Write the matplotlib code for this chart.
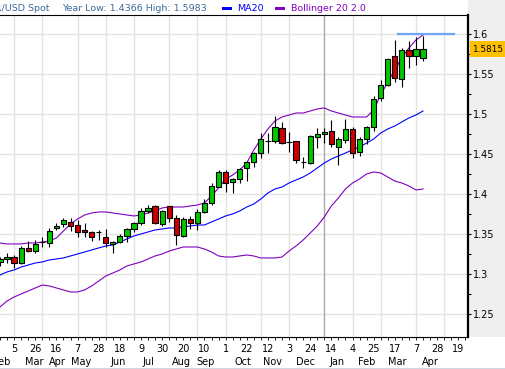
import matplotlib
matplotlib.use('Agg')
from matplotlib import pyplot as plt
from matplotlib import transforms
from matplotlib.patches import Rectangle

# weekly EUR/USD candles, one per week starting 19 Feb 2007
opens = [1.3154, 1.3191, 1.3216, 1.3141, 1.3329, 1.3291, 1.3398, 1.3391, 1.3579, 1.3629,
         1.3654, 1.3616, 1.3554, 1.3529, 1.3529, 1.3466, 1.3379, 1.3404, 1.3479, 1.3566,
         1.3641, 1.3791, 1.3854, 1.3629, 1.3854, 1.3704, 1.3479, 1.3691, 1.3641, 1.3779,
         1.3891, 1.4091, 1.4279, 1.4154, 1.4191, 1.4329, 1.4404, 1.4516, 1.4666, 1.4666,
         1.4829, 1.4654, 1.4666, 1.4404, 1.4391, 1.4716, 1.4754, 1.4791, 1.4591, 1.4679,
         1.4816, 1.4529, 1.4691, 1.4841, 1.5204, 1.5366, 1.5729, 1.5441, 1.5804, 1.5729,
         1.5704]
highs = [1.3216, 1.3266, 1.3241, 1.3354, 1.3416, 1.3429, 1.3466, 1.3579, 1.3641, 1.3704,
         1.3704, 1.3679, 1.3641, 1.3541, 1.3554, 1.3566, 1.3416, 1.3504, 1.3579, 1.3654,
         1.3829, 1.3866, 1.3866, 1.3804, 1.3854, 1.3741, 1.3716, 1.3729, 1.3816, 1.3941,
         1.4141, 1.4304, 1.4304, 1.4204, 1.4329, 1.4416, 1.4529, 1.4766, 1.4766, 1.4979,
         1.4904, 1.4779, 1.4666, 1.4466, 1.4741, 1.4829, 1.4829, 1.4929, 1.4716, 1.4941,
         1.4841, 1.4716, 1.4854, 1.5229, 1.5429, 1.5704, 1.5929, 1.5829, 1.5916, 1.5966,
         1.5983]
lows = [1.3104, 1.3141, 1.3079, 1.3129, 1.3279, 1.3266, 1.3341, 1.3341, 1.3554, 1.3591,
        1.3541, 1.3466, 1.3466, 1.3416, 1.3429, 1.3341, 1.3266, 1.3391, 1.3404, 1.3529,
        1.3616, 1.3766, 1.3629, 1.3604, 1.3654, 1.3366, 1.3466, 1.3566, 1.3554, 1.3766,
        1.3866, 1.4091, 1.4029, 1.4016, 1.4141, 1.4166, 1.4341, 1.4454, 1.4516, 1.4641,
        1.4629, 1.4529, 1.4391, 1.4329, 1.4379, 1.4579, 1.4641, 1.4591, 1.4366, 1.4641,
        1.4454, 1.4479, 1.4629, 1.4791, 1.5166, 1.5354, 1.5404, 1.5341, 1.5579, 1.5616,
        1.5666]
closes = [1.3191, 1.3216, 1.3141, 1.3329, 1.3291, 1.3379, 1.3398, 1.3541, 1.3604, 1.3679,
          1.3604, 1.3529, 1.3529, 1.3466, 1.3529, 1.3391, 1.3404, 1.3479, 1.3566, 1.3641,
          1.3791, 1.3829, 1.3641, 1.3791, 1.3704, 1.3491, 1.3691, 1.3641, 1.3779, 1.3891,
          1.4104, 1.4279, 1.4141, 1.4191, 1.4316, 1.4404, 1.4516, 1.4691, 1.4666, 1.4841,
          1.4641, 1.4654, 1.4429, 1.4404, 1.4729, 1.4754, 1.4779, 1.4629, 1.4691, 1.4816,
          1.4516, 1.4691, 1.4841, 1.5191, 1.5366, 1.5691, 1.5454, 1.5804, 1.5729, 1.5816,
          1.5815]

ma20 = [1.2991, 1.3029, 1.3054, 1.3091, 1.3116, 1.3141, 1.3154, 1.3179, 1.3191, 1.3204,
        1.3229, 1.3254, 1.3279, 1.3304, 1.3329, 1.3354, 1.3366, 1.3404, 1.3441, 1.3479,
        1.3504, 1.3529, 1.3554, 1.3566, 1.3579, 1.3579, 1.3591, 1.3604, 1.3616, 1.3616,
        1.3654, 1.3691, 1.3729, 1.3754, 1.3791, 1.3841, 1.3879, 1.3941, 1.4016, 1.4066,
        1.4091, 1.4141, 1.4179, 1.4216, 1.4266, 1.4329, 1.4391, 1.4441, 1.4479, 1.4516,
        1.4554, 1.4591, 1.4641, 1.4691, 1.4766, 1.4816, 1.4854, 1.4904, 1.4954, 1.4991,
        1.5041]
boll_upper = [1.3391, 1.3379, 1.3379, 1.3379, 1.3391, 1.3391, 1.3404, 1.3416, 1.3454, 1.3541,
              1.3629, 1.3691, 1.3741, 1.3766, 1.3779, 1.3779, 1.3766, 1.3754, 1.3741, 1.3729,
              1.3741, 1.3766, 1.3791, 1.3829, 1.3841, 1.3841, 1.3841, 1.3854, 1.3866, 1.3891,
              1.3979, 1.4079, 1.4191, 1.4241, 1.4304, 1.4391, 1.4554, 1.4691, 1.4816, 1.4916,
              1.4966, 1.4991, 1.5016, 1.5016, 1.5041, 1.5066, 1.5079, 1.5041, 1.5016, 1.4991,
              1.4966, 1.4966, 1.4966, 1.5054, 1.5241, 1.5404, 1.5554, 1.5704, 1.5829, 1.5929,
              1.5991]
boll_lower = [1.2591, 1.2666, 1.2716, 1.2754, 1.2791, 1.2829, 1.2866, 1.2854, 1.2829, 1.2804,
              1.2779, 1.2779, 1.2804, 1.2854, 1.2916, 1.2979, 1.3016, 1.3054, 1.3104, 1.3129,
              1.3154, 1.3191, 1.3229, 1.3254, 1.3291, 1.3316, 1.3341, 1.3341, 1.3341, 1.3316,
              1.3279, 1.3229, 1.3216, 1.3216, 1.3229, 1.3241, 1.3229, 1.3204, 1.3204, 1.3204,
              1.3216, 1.3291, 1.3354, 1.3429, 1.3516, 1.3604, 1.3716, 1.3854, 1.3954, 1.4066,
              1.4141, 1.4191, 1.4254, 1.4279, 1.4266, 1.4216, 1.4166, 1.4141, 1.4104, 1.4054,
              1.4066]

day_labels = ['5', '26', '16', '7', '28', '18', '9', '30', '20', '10', '1',
              '22', '12', '3', '24', '14', '4', '25', '17', '7', '28', '19']
month_labels = ['Feb', 'Mar', 'Apr', 'May', 'Jun', 'Jul', 'Aug', 'Sep',
                'Oct', 'Nov', 'Dec', 'Jan', 'Feb', 'Mar', 'Apr']
month_label_weeks = [0.3, 4.8, 8.2, 11.45, 16.75, 21.0, 25.8, 29.1,
                     34.5, 38.7, 43.3, 47.8, 52.05, 56.3, 61.0]
month_start_weeks = [2, 6, 11, 15, 19, 24, 28, 32, 37, 41, 46, 50, 54, 59, 63]
year_start_week = 46
last_price = 1.5815
resistance = 1.6
resistance_weeks = [56.5, 64.4]

UP = '#00c800'
DOWN = '#cc0000'
MA_COLOR = '#0000ff'
BOLL_COLOR = '#8000c0'
TITLE_COLOR = '#3d6a99'
FS = 7

fig = plt.figure(figsize=(5.05, 3.69), dpi=100)
fig.patch.set_facecolor('white')
W, H = 505.0, 369.0
ax = fig.add_axes([0, 32 / H, 467.7 / W, 322 / H])

# grey strip for the price scale
fig.patches.append(Rectangle((468 / W, 32 / H), 1 - 468 / W, 1 - 32 / H,
                             transform=fig.transFigure, facecolor='#efefef',
                             edgecolor='none', zorder=-5))
fig.add_artist(plt.Line2D([0, 1], [0.5 / H, 0.5 / H], color='#1a3a6a', lw=1.0))

weeks = list(range(len(opens)))

# grid
for y in [1.25, 1.3, 1.35, 1.4, 1.45, 1.5, 1.55, 1.6]:
    ax.axhline(y, color='#e3e3e3', lw=1.0, zorder=0)
for w in month_start_weeks:
    c = '#a8a8a8' if w == year_start_week else '#e3e3e3'
    ax.axvline(w, color=c, lw=1.0, zorder=0)

# indicators
ax.plot(weeks, ma20, color=MA_COLOR, lw=0.8, zorder=2)
ax.plot(weeks, boll_upper, color=BOLL_COLOR, lw=0.8, zorder=2)
ax.plot(weeks, boll_lower, color=BOLL_COLOR, lw=0.8, zorder=2)

# candles
ax.vlines(weeks, lows, highs, color='black', lw=0.8, zorder=3)
bottoms = [min(o, c) for o, c in zip(opens, closes)]
heights = [abs(c - o) for o, c in zip(opens, closes)]
colors = [UP if c >= o else DOWN for o, c in zip(opens, closes)]
ax.bar(weeks, heights, bottom=bottoms, width=0.75, color=colors,
       edgecolor='black', linewidth=0.8, zorder=4)

ax.plot(resistance_weeks, [resistance, resistance], color='#6fa6f5', lw=1.6, zorder=5)

ax.set_xlim(0, 66.34)
ax.set_ylim(1.2216, 1.6241)

ax.spines['left'].set_visible(False)
ax.spines['right'].set_linewidth(1.6)
ax.spines['top'].set_linewidth(0.8)
ax.spines['bottom'].set_linewidth(0.8)

ax.yaxis.tick_right()
ax.set_yticks([1.25, 1.3, 1.35, 1.4, 1.45, 1.5, 1.55, 1.6])
ax.set_yticklabels(['1.25', '1.3', '1.35', '1.4', '1.45', '1.5', '1.55', '1.6'])
ax.set_yticks([1.275, 1.325, 1.375, 1.425, 1.475, 1.525, 1.575], minor=True)
ax.tick_params(axis='y', which='both', length=2.2, width=0.8, pad=1.5, labelsize=FS)

ax.set_xticks([2 + 3 * i for i in range(len(day_labels))])
ax.set_xticklabels(day_labels)
ax.set_xticks(range(0, 67), minor=True)
ax.tick_params(axis='x', which='both', length=2.0, width=0.6, pad=3, labelsize=FS)

xt = ax.get_xaxis_transform()
for name, w in zip(month_labels, month_label_weeks):
    ax.text(w, -0.079, name, transform=xt, ha='center', va='center',
            fontsize=FS, clip_on=False)

# current price marker
bt = transforms.blended_transform_factory(ax.transAxes, ax.transData)
ax.add_patch(Rectangle((1.004, last_price - 0.0095), 0.078, 0.019, transform=bt,
                       facecolor='#ffc000', edgecolor='none', clip_on=False, zorder=6))
ax.text(1.0425, last_price, '%.4f' % last_price, transform=bt, ha='center', va='center',
        fontsize=6.4, clip_on=False, zorder=7)

# header
ty = 1 - 8.5 / H
fig.text(50 / W, ty, 'EUR/USD Spot', ha='right', va='center', fontsize=6.8, color=TITLE_COLOR)
fig.text(62 / W, ty, 'Year Low: 1.4366 High: 1.5983', ha='left', va='center',
         fontsize=6.8, color=TITLE_COLOR)
fig.patches.append(Rectangle((222 / W, ty - 1.5 / H), 10 / W, 3.5 / H, transform=fig.transFigure,
                             facecolor=MA_COLOR, edgecolor='none'))
fig.text(237 / W, ty, 'MA20', ha='left', va='center', fontsize=6.8, color=MA_COLOR)
fig.patches.append(Rectangle((275 / W, ty - 1.5 / H), 10 / W, 3.5 / H, transform=fig.transFigure,
                             facecolor=BOLL_COLOR, edgecolor='none'))
fig.text(291 / W, ty, 'Bollinger 20 2.0', ha='left', va='center', fontsize=6.8, color=BOLL_COLOR)

fig.savefig('out.png', dpi=100)
